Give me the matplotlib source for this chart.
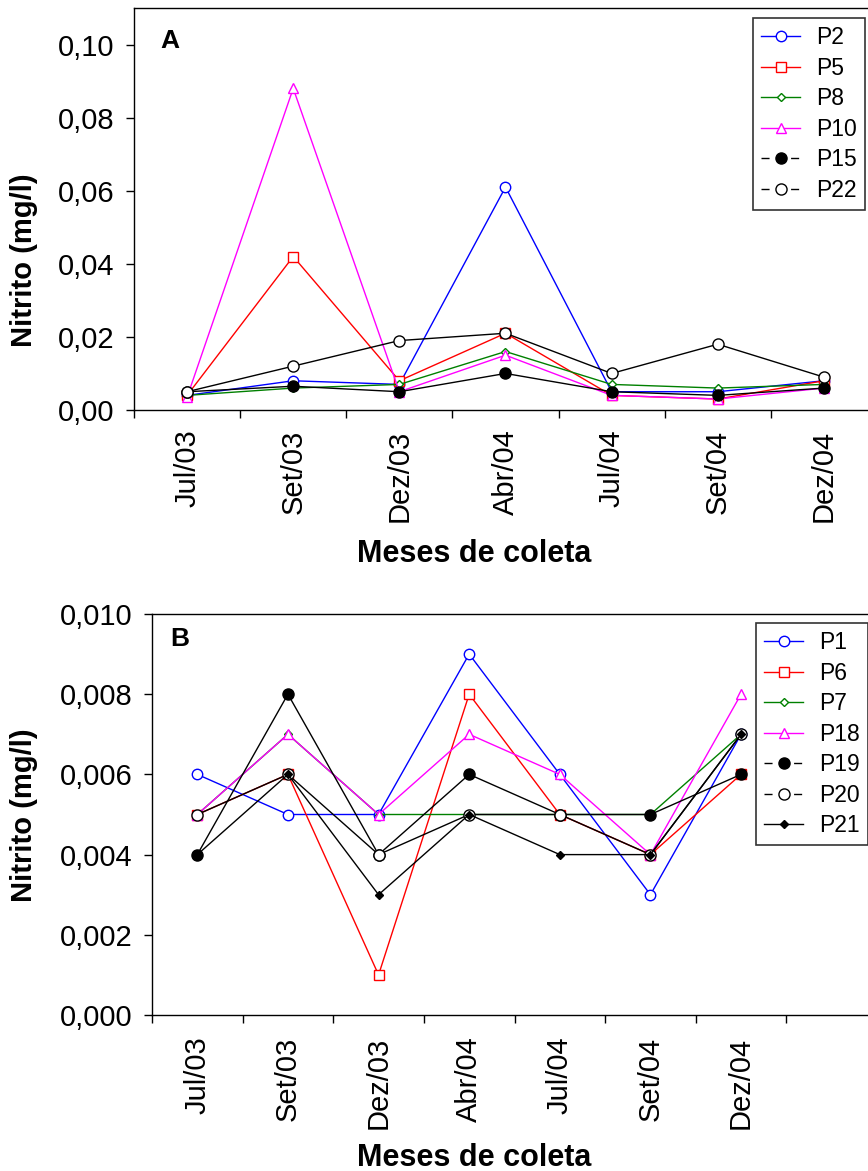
import matplotlib
matplotlib.use("Agg")
import matplotlib.pyplot as plt
from matplotlib.lines import Line2D
from matplotlib.ticker import FixedLocator, FuncFormatter

plt.rcParams['font.family'] = ['Liberation Sans', 'DejaVu Sans']

months = ['Jul/03', 'Set/03', 'Dez/03', 'Abr/04', 'Jul/04', 'Set/04', 'Dez/04']

# Panel A
a_names = ['P2', 'P5', 'P8', 'P10', 'P15', 'P22']
a_P2 = [0.004, 0.008, 0.007, 0.061, 0.005, 0.005, 0.008]
a_P5 = [0.004, 0.042, 0.008, 0.021, 0.004, 0.003, 0.008]
a_P8 = [0.004, 0.006, 0.007, 0.016, 0.007, 0.006, 0.007]
a_P10 = [0.0035, 0.088, 0.005, 0.015, 0.004, 0.003, 0.006]
a_P15 = [0.005, 0.0065, 0.005, 0.010, 0.005, 0.004, 0.006]
a_P22 = [0.005, 0.012, 0.019, 0.021, 0.010, 0.018, 0.009]

# Panel B
b_names = ['P1', 'P6', 'P7', 'P18', 'P19', 'P20', 'P21']
b_P1 = [0.006, 0.005, 0.005, 0.009, 0.006, 0.003, 0.007]
b_P6 = [0.005, 0.006, 0.001, 0.008, 0.005, 0.004, 0.006]
b_P7 = [0.005, 0.007, 0.005, 0.005, 0.005, 0.005, 0.007]
b_P18 = [0.005, 0.007, 0.005, 0.007, 0.006, 0.004, 0.008]
b_P19 = [0.004, 0.008, 0.004, 0.006, 0.005, 0.005, 0.006]
b_P20 = [0.005, 0.006, 0.004, 0.005, 0.005, 0.004, 0.007]
b_P21 = [0.004, 0.006, 0.003, 0.005, 0.004, 0.004, 0.007]

yticks_a = [0.00, 0.02, 0.04, 0.06, 0.08, 0.10]
yticks_b = [0.000, 0.002, 0.004, 0.006, 0.008, 0.010]

styles = {
    'blue_o': dict(color='#0000FF', marker='o', mfc='white', mec='#0000FF', ms=7.5),
    'red_s': dict(color='#FF0000', marker='s', mfc='white', mec='#FF0000', ms=7.5),
    'green_d': dict(color='#008000', marker='D', mfc='white', mec='#008000', ms=4.5),
    'mag_t': dict(color='#FF00FF', marker='^', mfc='white', mec='#FF00FF', ms=7.5),
    'blk_f': dict(color='black', marker='o', mfc='black', mec='black', ms=8),
    'blk_o': dict(color='black', marker='o', mfc='white', mec='black', ms=8),
    'blk_d': dict(color='black', marker='D', mfc='black', mec='black', ms=4.5),
}
dashed_keys = {'blk_f', 'blk_o'}

W, H = 868, 1171
fig = plt.figure(figsize=(W / 100, H / 100), dpi=100)


def fx(px):
    return px / W


def fy(py):
    return 1 - py / H


def setup(ax, n_cat, yticks, fmt_dec, ylim_top, pad):
    ax.set_xlim(-0.5, n_cat - 0.5)
    ax.set_ylim(0, ylim_top)
    ax.spines['right'].set_visible(False)
    for s in ax.spines.values():
        s.set_linewidth(1.0)
    ax.set_xticks(range(len(months)))
    ax.set_xticklabels(months, rotation=90, fontsize=21)
    ax.xaxis.set_minor_locator(FixedLocator([i - 0.5 for i in range(n_cat + 1)]))
    ax.tick_params(axis='x', which='major', length=0, pad=pad)
    ax.tick_params(axis='x', which='minor', length=6, width=1.0, direction='out')
    ax.set_yticks(yticks)
    ax.yaxis.set_major_formatter(FuncFormatter(lambda v, p: f"{v:.{fmt_dec}f}".replace('.', ',')))
    ax.tick_params(axis='y', which='major', length=6, width=1.0, direction='out', pad=8, labelsize=21)
    ax.tick_params(top=False, right=False, which='both')


def make_handles(names, keys):
    hs = []
    for n, k in zip(names, keys):
        st = dict(styles[k])
        if k in dashed_keys:
            h = Line2D([], [], lw=1.0, dashes=(5.8, 15.5), **st)
        else:
            h = Line2D([], [], lw=1.0, **st)
        hs.append(h)
    return hs


LEG_KW = dict(loc='upper left', bbox_transform=fig.transFigure, fontsize=16.5,
              frameon=True, fancybox=False, borderaxespad=0, handlelength=1.7,
              handletextpad=0.7, labelspacing=0.33, borderpad=0.35)

# ---------- Panel A ----------
axA = fig.add_axes([fx(134), fy(410), fx(877) - fx(134), fy(8) - fy(410)])
a_series = [a_P2, a_P5, a_P8, a_P10, a_P15, a_P22]
a_keys = ['blue_o', 'red_s', 'green_d', 'mag_t', 'blk_f', 'blk_o']
xs = list(range(len(months)))
for vals, k in zip(a_series, a_keys):
    axA.plot(xs, vals, lw=1.0, clip_on=False, **styles[k])
setup(axA, 7, yticks_a, 2, 0.11, 14)
axA.text(fx(160), fy(41), 'A', transform=fig.transFigure, fontsize=19, fontweight='bold', va='center', ha='left')
legA = axA.legend(make_handles(a_names, a_keys), a_names,
                  bbox_to_anchor=(fx(753), fy(18)), **LEG_KW)
legA.get_frame().set_edgecolor('black')
legA.get_frame().set_linewidth(1.2)

fig.text(fx(24), fy(260), 'Nitrito (mg/l)', rotation=90, fontsize=21, fontweight='bold', ha='center', va='center')
fig.text(fx(474), fy(554), 'Meses de coleta', fontsize=22, fontweight='bold', ha='center', va='center')

# ---------- Panel B ----------
axB = fig.add_axes([fx(152), fy(1015), fx(877) - fx(152), fy(614) - fy(1015)])
b_series = [b_P1, b_P6, b_P7, b_P18, b_P19, b_P20, b_P21]
b_keys = ['blue_o', 'red_s', 'green_d', 'mag_t', 'blk_f', 'blk_o', 'blk_d']
for vals, k in zip(b_series, b_keys):
    axB.plot(xs, vals, lw=1.0, clip_on=False, **styles[k])
setup(axB, 8, yticks_b, 3, 0.010, 15.5)
axB.text(fx(170), fy(639), 'B', transform=fig.transFigure, fontsize=19, fontweight='bold', va='center', ha='left')
legB = axB.legend(make_handles(b_names, b_keys), b_names,
                  bbox_to_anchor=(fx(756), fy(623)), **LEG_KW)
legB.get_frame().set_edgecolor('black')
legB.get_frame().set_linewidth(1.2)

fig.text(fx(24), fy(815), 'Nitrito (mg/l)', rotation=90, fontsize=21, fontweight='bold', ha='center', va='center')
fig.text(fx(474), fy(1158), 'Meses de coleta', fontsize=22, fontweight='bold', ha='center', va='center')

fig.savefig('out.png', dpi=100)
